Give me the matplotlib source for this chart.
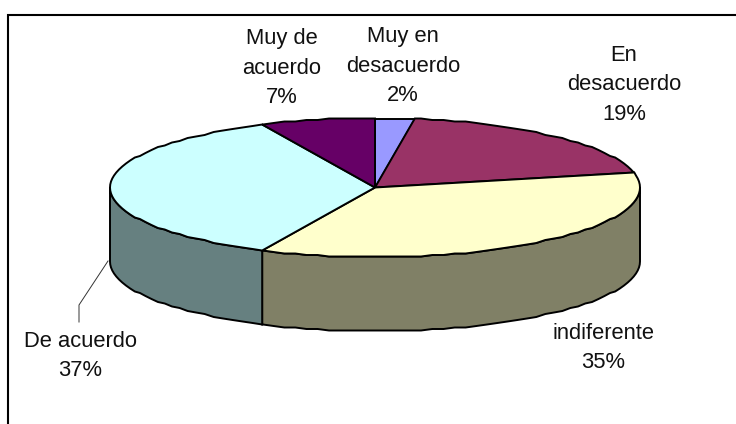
import numpy as np
import matplotlib.pyplot as plt
from matplotlib.patches import Rectangle

# labels say 2/19/35/37/7 but the slices drawn are not exactly that
labels = ["Muy en\ndesacuerdo\n2%", "En\ndesacuerdo\n19%", "indiferente\n35%", "De acuerdo\n37%", "Muy de\nacuerdo\n7%"]
values = [2.4, 19.3, 35.3, 36.0, 7.0]
top_colors = ["#9999FF", "#993366", "#FFFFCC", "#CCFFFF", "#660066"]
side_colors = ["#6B6BB3", "#6B2447", "#808066", "#668080", "#470047"]

W, H = 736, 424
CX, CY = 375, 187.5   # pie centre in pixels
RX, RY = 265, 69.5
DEPTH = 74

plt.rcParams['font.family'] = ['Liberation Sans', 'DejaVu Sans']

fig = plt.figure(figsize=(W / 100, H / 100), dpi=100)
ax = fig.add_axes([0, 0, 1, 1])
ax.set_xlim(0, W)
ax.set_ylim(H, 0)
ax.axis("off")

# frame runs off the right and bottom of the picture, only two sides show
ax.add_patch(Rectangle((7.5, 15), W + 20, H + 20, fc="white", ec="black", lw=1.5))


def rim(a0, a1):
    # angles clockwise from the top, degrees. small steps + rounding gives the rough edge
    grid = np.arange(0, 360, 2.5)
    t = np.radians(np.r_[a0, grid[(grid > a0) & (grid < a1)], a1])
    return CX + RX * np.sin(t), np.round((CY - RY * np.cos(t)) / 1.5) * 1.5


edges = np.cumsum([0] + values) / sum(values) * 360

# side wall only shows on the front half of the ellipse (90..270 deg)
for i in range(len(values)):
    a0, a1 = max(edges[i], 90), min(edges[i + 1], 270)
    if a0 >= a1:
        continue
    x, y = rim(a0, a1)
    ax.fill(np.r_[x, x[::-1]], np.r_[y, y[::-1] + DEPTH], fc=side_colors[i], ec="black", lw=1.4, zorder=2)

# top of the pie
for i in range(len(values)):
    x, y = rim(edges[i], edges[i + 1])
    ax.fill(np.r_[CX, x], np.r_[CY, y], fc=top_colors[i], ec="black", lw=1.4, zorder=3)

# label positions by eye
label_pos = [(403, 66), (624, 85), (603, 348), (80, 356), (282, 68)]
for s, (lx, ly) in zip(labels, label_pos):
    ax.text(lx, ly, s, ha="center", va="center", fontsize=15.8, linespacing=1.55, color="#111111", zorder=5)

# leader line for De acuerdo
ax.plot([108, 79, 79], [261, 305, 322], color="#333333", lw=0.7, zorder=4)

fig.savefig("out.png", dpi=100)
